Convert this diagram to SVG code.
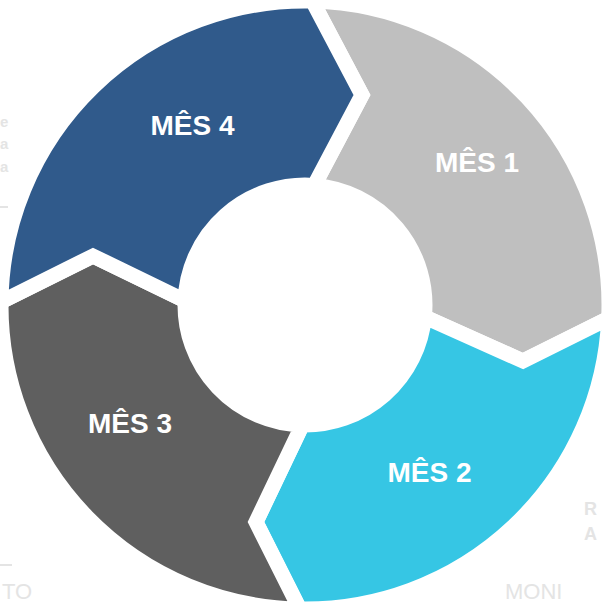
<svg xmlns="http://www.w3.org/2000/svg" width="602" height="607" viewBox="0 0 602 607">
<style>
.seg{stroke:#ffffff;stroke-width:15;stroke-linejoin:miter;stroke-miterlimit:10}
.lbl{font-family:"Liberation Sans",Arial,sans-serif;font-weight:bold;font-size:28px;fill:#ffffff;text-anchor:middle}
.ghost{font-family:"Liberation Sans",Arial,sans-serif;fill:#e4e4e4}
</style>
<rect width="602" height="607" fill="#ffffff"/>
<g id="background-fragments">
<text class="ghost" x="0" y="127" font-size="15" font-weight="bold">e</text>
<text class="ghost" x="0" y="149" font-size="15" font-weight="bold">a</text>
<text class="ghost" x="0" y="172" font-size="15" font-weight="bold">a</text>
<rect x="0" y="206" width="8" height="2" fill="#e4e4e4"/>
<rect x="0" y="564" width="12" height="2" fill="#e4e4e4"/>
<text class="ghost" x="2" y="599" font-size="22" font-weight="300">TO</text>
<text class="ghost" x="584" y="515" font-size="18" font-weight="bold">R</text>
<text class="ghost" x="584" y="540" font-size="18" font-weight="bold">A</text>
<text class="ghost" x="505" y="599" font-size="22" font-weight="300">MONI</text>
</g>
<g id="mes1">
<path class="seg" fill="#BFBFBF" d="M 312.4 1.1 A 304 304 0 0 1 608.7 318.3 L 523 361 L 424.4 316.9 A 120 120 0 0 0 314.2 185.4 L 362 95 Z"/>
<text class="lbl" x="477" y="172">MÊS 1</text>
</g>
<g id="mes2">
<path class="seg" fill="#36C6E4" d="M 608.7 318.3 A 304 304 0 0 1 299.7 609 L 256 522 L 302.3 425 A 120 120 0 0 0 424.4 316.9 L 523 361 Z"/>
<text class="lbl" x="429.5" y="482">MÊS 2</text>
</g>
<g id="mes3">
<path class="seg" fill="#5F5F5F" d="M 299.7 609 A 304 304 0 0 1 1 301.8 L 93 256 L 185.1 300.8 A 120 120 0 0 0 302.3 425 L 256 522 Z"/>
<text class="lbl" x="130" y="433">MÊS 3</text>
</g>
<g id="mes4">
<path class="seg" fill="#305A8B" d="M 1 301.8 A 304 304 0 0 1 312.4 1.1 L 362 95 L 314.2 185.4 A 120 120 0 0 0 185.1 300.8 L 93 256 Z"/>
<text class="lbl" x="192.5" y="135">MÊS 4</text>
</g>
<g id="connectors"/>
</svg>
